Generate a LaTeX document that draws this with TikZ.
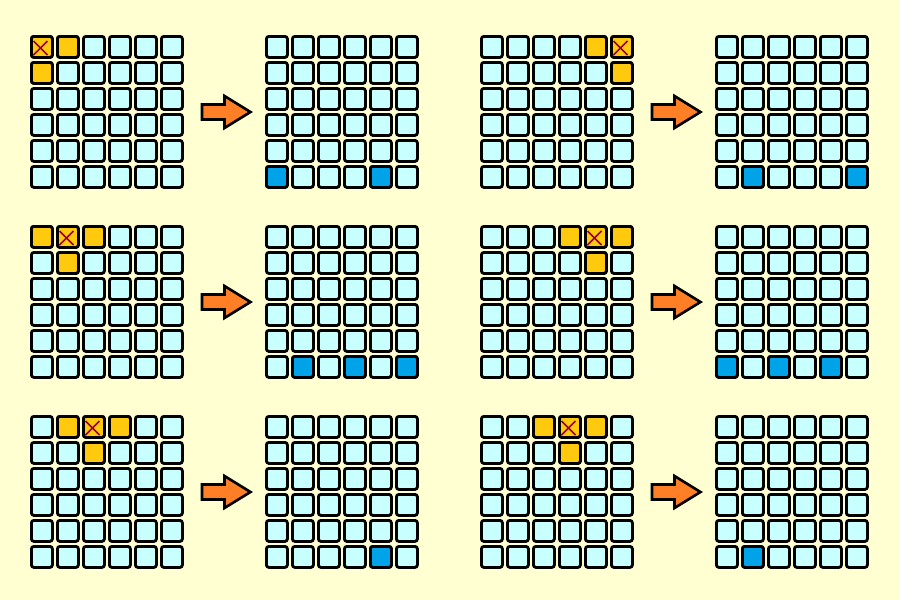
\documentclass[tikz,border=0pt]{standalone}
\usepackage{tikz}
\definecolor{bg}{HTML}{FFFFD2}
\definecolor{cellc}{HTML}{C8FFFF}
\definecolor{gold}{HTML}{FFC90E}
\definecolor{bluec}{HTML}{00A2E8}
\definecolor{arrowc}{HTML}{FF7F27}
\definecolor{xred}{HTML}{990012}
\tikzset{
  cell/.style={draw=black,line width=2.8pt,rounded corners=2.5pt,fill=cellc},
  goldcell/.style={cell,fill=gold},
  bluecell/.style={cell,fill=bluec},
  xmark/.style={draw=xred,line width=1.6pt},
  bigarrow/.style={draw=black,line width=2.6pt,fill=arrowc,line join=miter}
}
% grid at (#1,#2)
\newcommand\gridpanel[2]{%
  \foreach \i in {0,...,5}{\foreach \j in {0,...,5}{%
    \draw[cell] ({#1+26*\i+1.4},{#2+26*\j+1.4}) rectangle ++(21,21);}}}
% cell style overlay: gx gy i j style
\newcommand\cellmark[5]{%
  \draw[#5] ({#1+26*#3+1.4},{#2+26*#4+1.4}) rectangle ++(21,21);}
\newcommand\xat[4]{%
  \draw[xmark] ({#1+26*#3+3.5},{#2+26*#4+6}) -- ++(14,14);
  \draw[xmark] ({#1+26*#3+17.5},{#2+26*#4+6}) -- ++(-14,14);}
\newcommand\arrowat[2]{%
  \draw[bigarrow] (#1+1,#2-7.5) -- (#1+23.5,#2-7.5) -- (#1+23.5,#2-16) -- (#1+49.5,#2) -- (#1+23.5,#2+16) -- (#1+23.5,#2+7.5) -- (#1+1,#2+7.5) -- cycle;}
\begin{document}
\begin{tikzpicture}[x=1pt,y=-1pt]
\useasboundingbox (0,0) rectangle (900,600);
\fill[bg] (0,0) rectangle (900,600);
% grids
\foreach \gy in {35,225,415}{
  \gridpanel{30}{\gy}
  \gridpanel{265}{\gy}
  \gridpanel{480}{\gy}
  \gridpanel{715}{\gy}
  \arrowat{201}{\gy+77}
  \arrowat{651}{\gy+77}
}
% panel 1
\cellmark{30}{35}{0}{0}{goldcell}\cellmark{30}{35}{1}{0}{goldcell}\cellmark{30}{35}{0}{1}{goldcell}
\xat{30}{35}{0}{0}
\cellmark{265}{35}{0}{5}{bluecell}\cellmark{265}{35}{4}{5}{bluecell}
% panel 2
\cellmark{480}{35}{4}{0}{goldcell}\cellmark{480}{35}{5}{0}{goldcell}\cellmark{480}{35}{5}{1}{goldcell}
\xat{480}{35}{5}{0}
\cellmark{715}{35}{1}{5}{bluecell}\cellmark{715}{35}{5}{5}{bluecell}
% panel 3
\cellmark{30}{225}{0}{0}{goldcell}\cellmark{30}{225}{1}{0}{goldcell}\cellmark{30}{225}{2}{0}{goldcell}\cellmark{30}{225}{1}{1}{goldcell}
\xat{30}{225}{1}{0}
\cellmark{265}{225}{1}{5}{bluecell}\cellmark{265}{225}{3}{5}{bluecell}\cellmark{265}{225}{5}{5}{bluecell}
% panel 4
\cellmark{480}{225}{3}{0}{goldcell}\cellmark{480}{225}{4}{0}{goldcell}\cellmark{480}{225}{5}{0}{goldcell}\cellmark{480}{225}{4}{1}{goldcell}
\xat{480}{225}{4}{0}
\cellmark{715}{225}{0}{5}{bluecell}\cellmark{715}{225}{2}{5}{bluecell}\cellmark{715}{225}{4}{5}{bluecell}
% panel 5
\cellmark{30}{415}{1}{0}{goldcell}\cellmark{30}{415}{2}{0}{goldcell}\cellmark{30}{415}{3}{0}{goldcell}\cellmark{30}{415}{2}{1}{goldcell}
\xat{30}{415}{2}{0}
\cellmark{265}{415}{4}{5}{bluecell}
% panel 6
\cellmark{480}{415}{2}{0}{goldcell}\cellmark{480}{415}{3}{0}{goldcell}\cellmark{480}{415}{4}{0}{goldcell}\cellmark{480}{415}{3}{1}{goldcell}
\xat{480}{415}{3}{0}
\cellmark{715}{415}{1}{5}{bluecell}
\end{tikzpicture}
\end{document}
